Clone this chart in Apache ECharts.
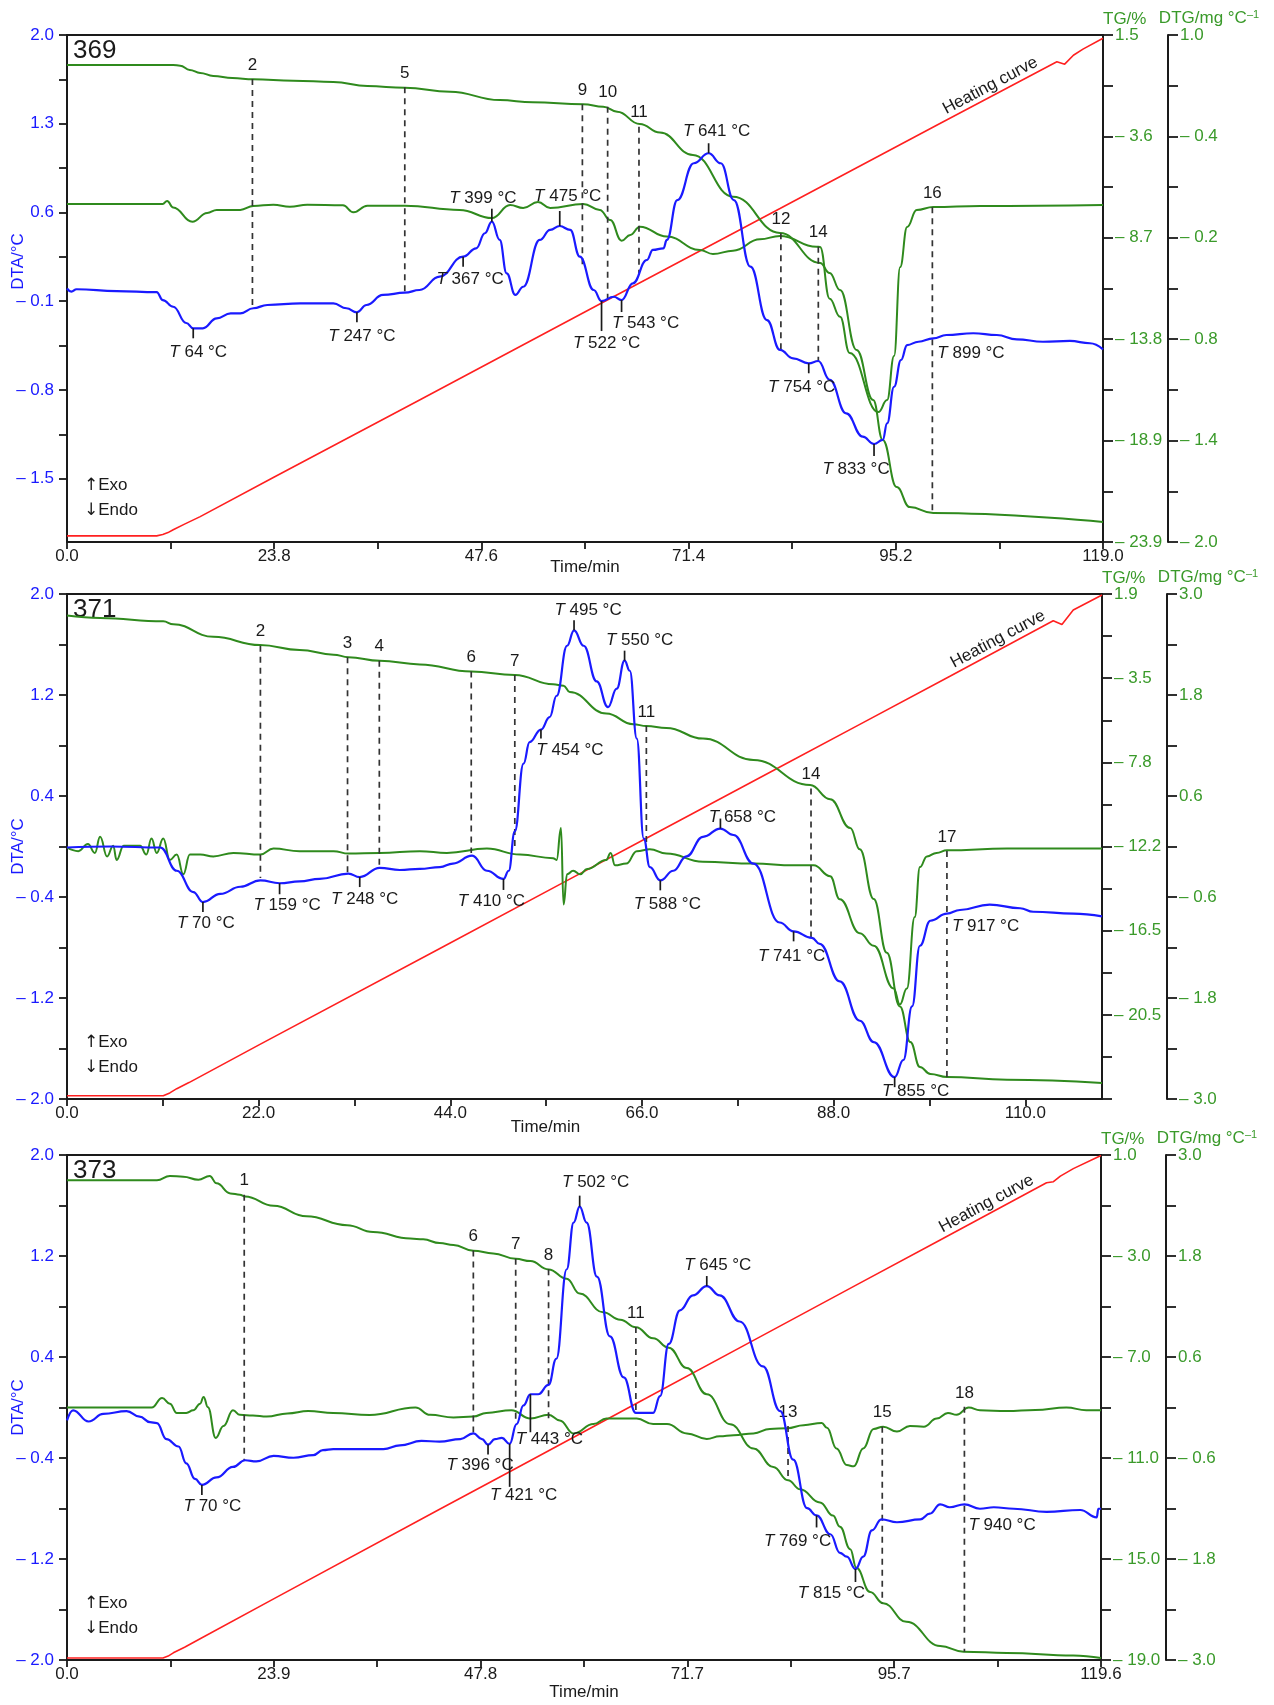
<!DOCTYPE html>
<html><head><meta charset="utf-8">
<script src="https://cdn.jsdelivr.net/npm/echarts@6/dist/echarts.min.js"></script>
<style>html,body{margin:0;padding:0;background:#fff}#c{width:1274px;height:1705px}</style>
</head><body><div id="c"></div>
<script>
// ---------------- DATA ----------------
// Panel 369
const p1XLabels = ['0.0','23.8','47.6','71.4','95.2','119.0'];
const p1DtaLabels = ['2.0','1.3','0.6','– 0.1','– 0.8','– 1.5'];
const p1TgLabels = ['1.5','– 3.6','– 8.7','– 13.8','– 18.9','– 23.9'];
const p1DtgLabels = ['1.0','– 0.4','– 0.2','– 0.8','– 1.4','– 2.0'];
const p1DTA = [[0,0.0],[0.5,-0.025],[1.1,-0.006],[5.7,-0.02],[10.3,-0.028],[11.0,-0.091],[12.2,-0.144],[13.7,-0.272],[14.5,-0.314],[15.6,-0.314],[17.2,-0.235],[18.8,-0.196],[19.9,-0.196],[21.4,-0.156],[23.0,-0.130],[26.8,-0.117],[30.6,-0.117],[32.1,-0.156],[33.3,-0.188],[34.4,-0.130],[36.3,-0.051],[38.8,-0.033],[40.5,-0.012],[42.8,0.093],[45.5,0.251],[47.0,0.317],[48.0,0.436],[48.8,0.527],[49.7,0.383],[50.5,0.120],[51.5,-0.051],[52.4,0.014],[54.3,0.383],[55.5,0.462],[56.6,0.493],[57.8,0.462],[58.9,0.251],[60.5,-0.012],[61.4,-0.099],[62.8,-0.065],[63.7,-0.091],[65.0,0.041],[66.6,0.225],[67.3,0.304],[68.5,0.317],[68.9,0.383],[70.1,0.698],[72.0,0.988],[73.7,1.067],[75.1,0.988],[76.6,0.698],[78.5,0.172],[80.4,-0.249],[81.9,-0.485],[83.4,-0.551],[85.2,-0.590],[86.3,-0.572],[87.6,-0.72],[89.5,-0.985],[91.4,-1.169],[92.7,-1.227],[93.7,-1.195],[94.2,-1.064],[95.0,-0.775],[95.8,-0.564],[96.5,-0.446],[97.8,-0.420],[99.5,-0.393],[101.0,-0.367],[104.1,-0.353],[106.8,-0.367],[109.1,-0.401],[112.1,-0.420],[115.2,-0.414],[117.5,-0.432],[119,-0.480]];
const p1TG = [[0,0.0],[12.2,0.0],[13.0,-0.04],[14.1,-0.25],[15.3,-0.40],[16.8,-0.55],[19,-0.66],[21.4,-0.72],[26,-0.79],[30.6,-0.85],[34.5,-1.06],[38.8,-1.14],[44,-1.34],[49.7,-1.76],[53.5,-1.87],[59.3,-1.97],[61.6,-2.09],[63.2,-2.34],[65.8,-2.96],[68.1,-3.39],[71.9,-4.51],[76.5,-6.60],[81.9,-8.42],[86.5,-9.92],[87.6,-10.42],[88.8,-11.28],[90.7,-14.28],[92.6,-16.79],[93.7,-18.79],[95.3,-21.15],[96.8,-22.15],[99.5,-22.45],[119,-22.90]];
const p1DTG = [[0,0.0],[11.0,0.0],[11.5,0.018],[12.2,-0.02],[14.4,-0.105],[16.1,-0.053],[17.2,-0.035],[19.9,-0.035],[21.4,-0.012],[23.7,-0.004],[25.6,-0.016],[27.6,-0.004],[31.7,-0.008],[32.9,-0.049],[34.5,-0.010],[38.8,-0.010],[45.1,-0.035],[48.8,-0.083],[50.9,-0.006],[52.4,-0.024],[54.1,0.012],[55.5,-0.024],[59.3,0.0],[61.2,-0.035],[62.4,-0.095],[63.7,-0.217],[64.7,-0.183],[65.8,-0.134],[68.9,-0.193],[72.7,-0.272],[74.2,-0.296],[76.5,-0.276],[79.6,-0.209],[81.9,-0.189],[86.1,-0.253],[86.5,-0.254],[87.6,-0.56],[88.8,-0.667],[89.9,-0.882],[93.2,-1.231],[94.2,-1.160],[95.0,-0.90],[95.7,-0.373],[96.5,-0.136],[97.6,-0.036],[99.5,-0.018],[104.9,-0.012],[119,-0.006]];
const p1Heat = [[0,25],[10.3,25],[11.0,28],[11.6,32],[12.2,38],[13.5,50],[15.3,66],[23.7,149],[40.5,314],[61.2,518],[81.9,721],[100,899],[113.7,1033],[114.6,1028],[115.6,1047],[116.7,1060],[119,1083]];
const p1Lines = [[21.3,1.653,-0.144,'2'],[38.8,1.587,-0.025,'5'],[59.2,1.453,0.172,'9'],[62.1,1.434,-0.075,'10'],[65.7,1.277,0.120,'11'],[82.0,0.436,-0.485,'12'],[86.3,0.330,-0.578,'14'],[99.4,0.641,-1.774,'16']];
const p1Marks = [[14.5,-0.314,'64 °C'],[33.3,-0.188,'247 °C'],[45.5,0.251,'367 °C'],[48.8,0.527,'399 °C'],[56.6,0.493,'475 °C'],[61.4,-0.099,'522 °C'],[63.7,-0.091,'543 °C'],[73.7,1.067,'641 °C'],[85.2,-0.590,'754 °C'],[92.7,-1.227,'833 °C'],[99.4,-0.393,'899 °C']];

// Panel 371
const p2XLabels = ['0.0','22.0','44.0','66.0','88.0','110.0'];
const p2DtaLabels = ['2.0','1.2','0.4','– 0.4','– 1.2','– 2.0'];
const p2TgLabels = ['1.9','– 3.5','– 7.8','– 12.2','– 16.5','– 20.5'];
const p2DtgLabels = ['3.0','1.8','0.6','– 0.6','– 1.8','– 3.0'];
const p2DTA = [[0,-0.008],[5,0.0],[10.7,-0.008],[12.6,-0.192],[14.5,-0.361],[15.6,-0.440],[17.6,-0.375],[19.9,-0.319],[22.2,-0.268],[24.4,-0.291],[26.7,-0.276],[29.0,-0.257],[32.3,-0.215],[33.6,-0.242],[35.9,-0.169],[38.2,-0.186],[40.5,-0.177],[42.8,-0.163],[44.3,-0.135],[46.5,-0.073],[48.2,-0.192],[50.1,-0.257],[50.7,-0.192],[51.4,0.120],[52.4,0.657],[53.1,0.827],[54.4,0.926],[55.4,1.025],[56.2,1.194],[57.4,1.590],[58.2,1.712],[59.3,1.590],[60.8,1.308],[62.1,1.104],[63.1,1.251],[64.0,1.472],[64.6,1.392],[65.4,0.855],[66.2,0.063],[66.9,-0.163],[68.1,-0.268],[69.6,-0.192],[71.1,-0.078],[73.0,0.077],[75.0,0.142],[76.5,0.091],[78.8,-0.135],[81.8,-0.602],[83.4,-0.672],[85.5,-0.724],[86.4,-0.771],[88.7,-1.069],[91.0,-1.380],[92.6,-1.549],[95.0,-1.827],[96.0,-1.691],[97.0,-1.267],[97.9,-0.786],[99.1,-0.588],[101.0,-0.532],[102.5,-0.503],[105.9,-0.460],[109.4,-0.489],[110.9,-0.517],[115.5,-0.532],[118.8,-0.554]];
const p2TG = [[0,0.18],[3.8,0.05],[11.05,-0.13],[12.2,-0.28],[16.8,-0.94],[22.15,-1.37],[26.7,-1.63],[30.6,-1.87],[32.3,-2.00],[35.9,-2.19],[40.5,-2.38],[46.4,-2.75],[51.4,-2.93],[55.8,-3.42],[57.0,-3.49],[57.7,-3.82],[61.9,-4.95],[65.0,-5.51],[66.5,-5.60],[68.8,-5.70],[73.0,-6.26],[78.8,-7.38],[85.3,-8.69],[87.6,-9.43],[89.9,-10.93],[91.0,-12.05],[92.6,-14.65],[94.1,-17.46],[95.6,-20.26],[96.8,-22.12],[97.9,-23.43],[99.1,-23.79],[101.0,-23.95],[107.9,-24.09],[118.8,-24.26]];
const p2DTG = [[0,-0.012],[1.3,-0.055],[2.4,0.031],[3.2,-0.076],[3.8,0.115],[4.6,-0.118],[5.3,0.010],[5.7,-0.160],[6.5,0.010],[8.4,0.010],[9.1,-0.096],[9.7,0.094],[10.3,-0.076],[11.05,0.094],[11.8,-0.160],[12.6,-0.096],[13.35,-0.330],[14.1,-0.096],[15.3,-0.096],[16.8,-0.118],[19.1,-0.076],[22.2,-0.096],[23.7,-0.025],[26.7,-0.055],[30.6,-0.055],[32.3,-0.084],[35.9,-0.076],[40.5,-0.055],[43.6,-0.076],[48.2,-0.025],[52.0,-0.096],[55.8,-0.139],[56.2,-0.160],[56.7,0.221],[57.0,-0.690],[57.4,-0.330],[58.1,-0.287],[58.9,-0.330],[59.7,-0.267],[61.9,-0.160],[62.4,-0.076],[62.9,-0.224],[64.2,-0.203],[65.4,-0.055],[66.9,-0.033],[68.8,-0.084],[73.0,-0.182],[78.8,-0.203],[83.4,-0.224],[85.7,-0.224],[87.6,-0.352],[88.7,-0.627],[91.0,-1.03],[92.6,-1.179],[94.9,-1.688],[95.6,-1.878],[96.4,-1.688],[97.3,-0.839],[97.9,-0.245],[98.7,-0.118],[99.8,-0.076],[101.0,-0.046],[107.9,-0.025],[118.8,-0.025]];
const p2Heat = [[0,25],[11.05,25],[11.8,31],[12.6,40],[14.0,53],[22.2,135],[42.8,339],[57.0,480],[66.5,574],[81.5,723],[91.0,817],[101.4,920],[113.2,1038],[114.2,1030],[115.5,1061],[118.8,1093]];
const p2Lines = [[22.2,1.590,-0.249,'2'],[32.2,1.500,-0.220,'3'],[35.85,1.471,-0.169,'4'],[46.4,1.387,-0.051,'6'],[51.4,1.358,-0.022,'7'],[66.5,0.954,0.035,'11'],[85.4,0.459,-0.724,'14'],[101.0,-0.036,-1.827,'17']];
const p2Marks = [[15.6,-0.440,'70 °C'],[24.4,-0.291,'159 °C'],[33.6,-0.242,'248 °C'],[50.1,-0.257,'410 °C'],[54.4,0.926,'454 °C'],[58.2,1.712,'495 °C'],[64.0,1.472,'550 °C'],[68.1,-0.268,'588 °C'],[75.0,0.142,'658 °C'],[83.4,-0.672,'741 °C'],[95.0,-1.827,'855 °C'],[101.0,-0.532,'917 °C']];

// Panel 373
const p3XLabels = ['0.0','23.9','47.8','71.7','95.7','119.6'];
const p3DtaLabels = ['2.0','1.2','0.4','– 0.4','– 1.2','– 2.0'];
const p3TgLabels = ['1.0','– 3.0','– 7.0','– 11.0','– 15.0','– 19.0'];
const p3DtgLabels = ['3.0','1.8','0.6','– 0.6','– 1.8','– 3.0'];
const p3DTA = [[0,-0.102],[0.7,-0.022],[2.5,-0.111],[4.2,-0.051],[6.9,-0.028],[8.4,-0.072],[9.6,-0.116],[10.4,-0.123],[11.5,-0.250],[12.9,-0.309],[13.8,-0.442],[14.8,-0.566],[15.6,-0.613],[17.3,-0.554],[19.2,-0.471],[20.6,-0.418],[21.9,-0.427],[23.9,-0.383],[26.2,-0.398],[28.5,-0.377],[29.6,-0.338],[30.8,-0.330],[33.9,-0.330],[36.6,-0.330],[38.5,-0.300],[41.0,-0.265],[43.1,-0.270],[45.5,-0.250],[47.0,-0.205],[48.0,-0.250],[48.7,-0.294],[49.5,-0.250],[50.3,-0.241],[51.2,-0.288],[52.0,-0.131],[52.8,0.017],[53.6,0.105],[54.5,0.105],[55.7,0.179],[56.6,0.386],[57.8,1.095],[58.6,1.465],[59.3,1.591],[60.1,1.465],[61.3,1.036],[62.8,0.563],[64.4,0.238],[65.8,-0.043],[67.8,-0.043],[68.6,0.090],[69.6,0.504],[70.9,0.770],[72.4,0.888],[74.0,0.962],[75.5,0.888],[77.8,0.681],[80.5,0.326],[82.5,-0.028],[84.0,-0.413],[85.6,-0.797],[86.7,-0.855],[88.3,-1.004],[89.4,-1.151],[90.2,-1.181],[91.2,-1.279],[92.1,-1.181],[93.1,-0.973],[94.2,-0.886],[96.0,-0.909],[98.7,-0.886],[99.8,-0.841],[101.0,-0.767],[102.1,-0.790],[103.8,-0.767],[105.6,-0.802],[107.2,-0.790],[109.5,-0.802],[113.3,-0.826],[117.2,-0.812],[119.1,-0.870],[119.3,-0.802],[119.6,-0.802]];
const p3TG = [[0,0.0],[10.4,0.0],[11.9,0.17],[13.45,0.14],[15.2,0.02],[16.5,0.17],[17.3,-0.12],[18.9,-0.52],[20.0,-0.57],[20.6,-0.64],[23.9,-1.01],[27.7,-1.43],[32.4,-1.78],[35.4,-2.05],[39.7,-2.31],[41.2,-2.34],[43.1,-2.49],[44.7,-2.56],[47.0,-2.79],[49.3,-2.90],[51.9,-3.11],[53.6,-3.20],[55.7,-3.53],[57.8,-3.90],[59.3,-4.49],[62.0,-5.23],[64.0,-5.52],[65.8,-5.82],[67.8,-6.26],[69.6,-6.63],[71.7,-7.44],[74.0,-8.48],[76.7,-9.66],[79.4,-10.62],[81.7,-11.36],[83.4,-11.88],[84.8,-12.24],[87.1,-12.76],[88.6,-13.28],[89.4,-13.72],[90.6,-14.61],[91.3,-15.35],[92.9,-16.31],[94.4,-16.75],[97.1,-17.49],[101.0,-18.45],[103.7,-18.67],[108.7,-18.72],[116.4,-18.82],[119.6,-18.92]];
const p3DTG = [[0,0.0],[9.8,0.0],[11.0,0.113],[11.9,0.046],[12.7,-0.064],[13.8,-0.064],[14.6,-0.033],[15.4,0.046],[15.8,0.126],[16.3,0.003],[17.2,-0.361],[18.1,-0.220],[19.2,-0.033],[20.0,-0.087],[21.5,-0.095],[23.1,-0.108],[25.5,-0.07],[27.9,-0.042],[30.8,-0.064],[35,-0.09],[40.3,0.0],[42.0,-0.087],[44.7,-0.118],[47.0,-0.108],[48.5,-0.064],[51.4,-0.033],[53.6,-0.131],[55.7,-0.087],[57.0,-0.153],[58.6,-0.308],[60.9,-0.197],[62.4,-0.131],[65.9,-0.131],[67.8,-0.197],[69.4,-0.197],[71.7,-0.308],[74.0,-0.374],[75.5,-0.343],[77.1,-0.330],[79.4,-0.308],[81.3,-0.255],[83.3,-0.246],[85.2,-0.210],[87.3,-0.184],[87.9,-0.241],[89.0,-0.486],[90.2,-0.684],[91.0,-0.699],[92.1,-0.486],[93.3,-0.254],[94.4,-0.228],[96.0,-0.286],[97.5,-0.220],[99.1,-0.228],[100.6,-0.131],[101.9,-0.064],[102.9,-0.087],[104.3,0.0],[105.6,-0.033],[108.7,-0.042],[112,-0.03],[115.6,0.0],[117.9,-0.033],[119.6,-0.033]];
const p3Heat = [[0,25],[11.1,25],[11.7,29],[12.3,36],[13.6,48],[15.4,66],[23.9,151],[43.1,342],[51.2,422],[65.9,568],[79.4,702],[91.7,824],[101.0,916],[113.3,1038],[114.1,1040],[114.9,1052],[116.4,1068],[119.6,1096]];
const p3Lines = [[20.5,1.686,-0.418,'1'],[47.0,1.243,-0.205,'6'],[51.9,1.178,-0.116,'7'],[55.7,1.095,-0.087,'8'],[65.8,0.637,-0.043,'11'],[83.4,-0.147,-0.575,'13'],[94.3,-0.152,-1.550,'15'],[103.8,0.005,-1.934,'18']];
const p3Marks = [[15.6,-0.613,'70 °C'],[48.7,-0.294,'396 °C'],[51.2,-0.288,'421 °C'],[53.6,0.105,'443 °C'],[59.3,1.591,'502 °C'],[74.0,0.962,'645 °C'],[86.7,-0.855,'769 °C'],[91.2,-1.279,'815 °C'],[103.8,-0.767,'940 °C']];

// ---------------- LAYOUT (positions / offsets, separate from data) ----------------
// mark layout: [tick length px (+down/-up), text dx, text dy, align]
const p1MarkLayout = [[10,5,24],[10,5,24],[10,7,23],[-13,-9,-23],[-15,8,-30],[30,5,42],[12,24,23],[-10,8,-22],[10,-7,24],[12,-18,25],[0,5,15,'left']];
const p2MarkLayout = [[10,3,21.5],[11,7.5,22],[10,5,22],[11,-12,22],[9,29,21],[-10,14,-20],[-10,15,-20],[10,7,24],[-10,22,-11.5],[10,-2,25],[10,21,14],[0,5,12.5,'left']];
const p3MarkLayout = [[10,10.6,21],[10,-8,20.5],[43,14,51],[38,19,45.5],[-11,16,-24],[-10,11,-21],[12,-19,25.6],[13,-24,24],[0,4,20.6,'left']];

const FONT = '"Liberation Sans", Arial, Helvetica, sans-serif';
const ARROWFONT = '"DejaVu Sans", "Noto Sans", sans-serif';
const BLUE = '#1a1aff', GREEN = '#2f8a1d', GREEN_TXT = '#3a9a2a', RED = '#ff2020', INK = '#1a1a1a';

const panels = [
  {id:'369', grid:{left:67, top:35, width:1036, height:507},
   x:{step:23.8, n:10, max:119.0, labels:p1XLabels, nameGap:17, namePad:[0,0,0,0]},
   dta:{top:2.0, step:0.7, n:10, min:-2.0, labels:p1DtaLabels, namePad:[0,0,0,54]},
   tg:{top:1.5, step:5.08, n:10, min:-23.9, labels:p1TgLabels},
   dtg:{top:1.0, step:0.6, n:10, min:-2.0, labels:p1DtgLabels},
   temp:{min:12, max:1090},
   dtaData:p1DTA, tgData:p1TG, dtgData:p1DTG, heat:p1Heat, lines:p1Lines, marks:p1Marks, markLayout:p1MarkLayout, heatLabelT:106.6},
  {id:'371', grid:{left:67, top:594, width:1035, height:505},
   x:{step:22.0, n:10, max:118.8, labels:p2XLabels, nameGap:20, namePad:[0,78,0,0]},
   dta:{top:2.0, step:0.8, n:10, min:-2.0, labels:p2DtaLabels, namePad:[0,0,0,0]},
   tg:{top:1.3, step:4.4, n:12, min:-25.1, labels:p2TgLabels},
   dtg:{top:3.0, step:1.2, n:10, min:-3.0, labels:p2DtgLabels},
   temp:{min:18, max:1095},
   dtaData:p2DTA, tgData:p2TG, dtgData:p2DTG, heat:p2Heat, lines:p2Lines, marks:p2Marks, markLayout:p2MarkLayout, heatLabelT:107.4},
  {id:'373', grid:{left:67, top:1155, width:1034, height:505},
   x:{step:23.92, n:10, max:119.6, labels:p3XLabels, nameGap:24, namePad:[0,0,0,0]},
   dta:{top:2.0, step:0.8, n:10, min:-2.0, labels:p3DtaLabels, namePad:[0,0,0,0]},
   tg:{top:1.0, step:4.0, n:10, min:-19.0, labels:p3TgLabels},
   dtg:{top:3.0, step:1.2, n:10, min:-3.0, labels:p3DtgLabels},
   temp:{min:20.7, max:1097},
   dtaData:p3DTA, tgData:p3TG, dtgData:p3DTG, heat:p3Heat, lines:p3Lines, marks:p3Marks, markLayout:p3MarkLayout, heatLabelT:106.9}
];

// ---------------- HELPERS ----------------
function ticksDown(top, step, n) { const a = []; for (let k = 0; k <= n; k++) a.push(+(top - k * step / 2).toFixed(6)); return a; }
function labelsDown(top, step, cnt) { const a = []; for (let j = 0; j < cnt; j++) a.push(+(top - j * step).toFixed(6)); return a; }
function ticksUp(step, n) { const a = []; for (let k = 0; k <= n; k++) a.push(+(k * step / 2).toFixed(6)); return a; }
function labelsUp(step, cnt) { const a = []; for (let j = 0; j < cnt; j++) a.push(+(j * step).toFixed(6)); return a; }
function fmt(vals, labels) { return function (v) { for (let j = 0; j < vals.length; j++) if (Math.abs(v - vals[j]) < 1e-4) return labels[j]; return ''; }; }
function interp(arr, t) {
  for (let i = 1; i < arr.length; i++) if (arr[i][0] >= t) { const a = arr[i-1], b = arr[i]; return a[1] + (b[1]-a[1]) * (t - a[0]) / (b[0] - a[0]); }
  return arr[arr.length-1][1];
}

function yAxisDef(gi, spec, opts) {
  const lv = labelsDown(spec.top, spec.step, spec.labels.length);
  return Object.assign({
    type:'value', gridIndex:gi, min:spec.min, max:spec.top,
    axisLine:{show:true, onZero:false, lineStyle:{color:INK, width:2}},
    axisTick:{show:true, length:opts.tickLen, lineStyle:{color:INK, width:1.8}, customValues:ticksDown(spec.top, spec.step, spec.n)},
    axisLabel:{show:true, margin:opts.margin, color:opts.color, fontSize:17, fontFamily:FONT, customValues:lv, formatter:fmt(lv, spec.labels)},
    splitLine:{show:false}
  }, opts.extra);
}

const option = {animation:false, backgroundColor:'#ffffff', textStyle:{fontFamily:FONT},
  grid:[], xAxis:[], yAxis:[], series:[], graphic:[]};

panels.forEach(function (p, i) {
  option.grid.push({left:p.grid.left, top:p.grid.top, width:p.grid.width, height:p.grid.height,
    show:true, borderColor:INK, borderWidth:2, backgroundColor:'transparent',
    containLabel:false, outerBoundsMode:'none'});
  const xlv = labelsUp(p.x.step, p.x.labels.length);
  option.xAxis.push({type:'value', gridIndex:i, position:'bottom', min:0, max:p.x.max,
    axisLine:{onZero:false, lineStyle:{color:INK, width:2}},
    axisTick:{length:7, lineStyle:{color:INK, width:1.8}, customValues:ticksUp(p.x.step, p.x.n)},
    axisLabel:{margin:6, color:INK, fontSize:17, fontFamily:FONT, customValues:xlv, formatter:fmt(xlv, p.x.labels),
      alignMinLabel:'center', alignMaxLabel:'center'},
    splitLine:{show:false},
    name:'Time/min', nameLocation:'middle', nameGap:p.x.nameGap, nameMoveOverlap:false,
    nameTextStyle:{color:INK, fontSize:17, fontFamily:FONT, padding:p.x.namePad}});
  const yb = i * 4;
  option.yAxis.push(yAxisDef(i, p.dta, {tickLen:8, margin:13, color:BLUE, extra:{position:'left',
    name:'DTA/°C', nameLocation:'middle', nameGap:40, nameMoveOverlap:false,
    nameTextStyle:{color:BLUE, fontSize:17, fontFamily:FONT, padding:p.dta.namePad}}}));
  option.yAxis.push(yAxisDef(i, p.tg, {tickLen:10, margin:12, color:GREEN_TXT, extra:{position:'right', offset:0,
    name:'TG/%', nameLocation:'end', nameGap:7, nameMoveOverlap:false,
    nameTextStyle:{color:GREEN_TXT, fontSize:17, fontFamily:FONT, align:'left', verticalAlign:'bottom'}}}));
  option.yAxis.push(yAxisDef(i, p.dtg, {tickLen:10, margin:12, color:GREEN_TXT, extra:{position:'right', offset:65,
    name:'DTG/mg °C{sup|–1}', nameLocation:'end', nameGap:7, nameMoveOverlap:false,
    nameTextStyle:{color:GREEN_TXT, fontSize:17, fontFamily:FONT, align:'center', verticalAlign:'bottom', padding:[0,0,0,82],
      rich:{sup:{fontSize:11, color:GREEN_TXT, fontFamily:FONT, verticalAlign:'top', padding:[0,0,8,0]}}}}}));
  option.yAxis.push({type:'value', gridIndex:i, min:p.temp.min, max:p.temp.max, show:false, splitLine:{show:false}});

  const lineBase = {type:'line', xAxisIndex:i, showSymbol:false, symbol:'none', smooth:0.45, smoothMonotone:'x', silent:true};
  option.series.push(Object.assign({}, lineBase, {name:'Heating '+p.id, yAxisIndex:yb+3, data:p.heat, smooth:false, lineStyle:{color:RED, width:1.6}, z:2}));
  option.series.push(Object.assign({}, lineBase, {name:'TG '+p.id, yAxisIndex:yb+1, data:p.tgData, lineStyle:{color:GREEN, width:2}, z:3}));
  option.series.push(Object.assign({}, lineBase, {name:'DTG '+p.id, yAxisIndex:yb+2, data:p.dtgData, lineStyle:{color:GREEN, width:2}, z:3}));

  // dashed reference lines with step numbers
  const lines = p.lines;
  option.series.push({type:'custom', name:'steps '+p.id, xAxisIndex:i, yAxisIndex:yb, silent:true, z:4,
    data:lines.map(function (l) { return [l[0], l[1], l[2]]; }),
    encode:{x:0, y:[1,2]},
    renderItem:function (params, api) {
      const a = api.coord([api.value(0), api.value(1)]);
      const b = api.coord([api.value(0), api.value(2)]);
      return {type:'group', children:[
        {type:'line', shape:{x1:a[0], y1:a[1], x2:b[0], y2:b[1]}, style:{stroke:'#333333', lineWidth:1.7, lineDash:[6,5]}},
        {type:'text', x:a[0], y:a[1] - 14, style:{text:lines[params.dataIndex][3], fill:INK, fontSize:17, fontFamily:FONT, align:'center', verticalAlign:'middle'}}
      ]};
    }});

  option.series.push(Object.assign({}, lineBase, {name:'DTA '+p.id, yAxisIndex:yb, data:p.dtaData, lineStyle:{color:BLUE, width:2.2}, z:5}));

  // temperature marks
  const marks = p.marks, ml = p.markLayout;
  option.series.push({type:'custom', name:'marks '+p.id, xAxisIndex:i, yAxisIndex:yb, silent:true, z:6,
    data:marks.map(function (m) { return [m[0], m[1]]; }),
    encode:{x:0, y:1},
    renderItem:function (params, api) {
      const L = ml[params.dataIndex];
      const c = api.coord([api.value(0), api.value(1)]);
      const ch = [];
      if (L[0]) ch.push({type:'line', shape:{x1:c[0], y1:c[1], x2:c[0], y2:c[1] + L[0]}, style:{stroke:INK, lineWidth:1.7}});
      ch.push({type:'text', x:c[0] + L[1], y:c[1] + L[2], style:{
        text:'{i|T} ' + marks[params.dataIndex][2], fill:INK, fontSize:17, fontFamily:FONT,
        align:L[3] || 'center', verticalAlign:'middle',
        rich:{i:{fontStyle:'italic', fontSize:17, fontFamily:FONT, fill:INK}}}});
      return {type:'group', children:ch};
    }});

  // heating curve label
  const heat = p.heat, tA = p.heatLabelT;
  option.series.push({type:'custom', name:'heatlabel '+p.id, xAxisIndex:i, yAxisIndex:yb+3, silent:true, z:6,
    data:[[tA, interp(heat, tA)]], encode:{x:0, y:1},
    renderItem:function (params, api) {
      const c = api.coord([api.value(0), api.value(1)]);
      const a = api.coord([tA - 25, interp(heat, tA - 25)]);
      const rot = Math.atan2(-(c[1] - a[1]), c[0] - a[0]);
      return {type:'text', x:c[0] - 10 * Math.sin(rot), y:c[1] - 10 * Math.cos(rot), rotation:rot,
        style:{text:'Heating curve', fill:INK, fontSize:17, fontFamily:FONT, align:'center', verticalAlign:'middle'}};
    }});

  // panel id and Exo / Endo legend
  const g = p.grid;
  const arrowRich = {a:{fontFamily:ARROWFONT, fontSize:17, fill:INK}};
  option.graphic.push({type:'text', left:g.left + 6, top:g.top + 3, silent:true, style:{text:p.id, fill:INK, fontSize:26, fontFamily:FONT}});
  option.graphic.push({type:'text', left:g.left + 17, top:g.top + g.height - 65, silent:true, style:{text:'{a|↑}Exo', rich:arrowRich, fill:INK, fontSize:17, fontFamily:FONT}});
  option.graphic.push({type:'text', left:g.left + 17, top:g.top + g.height - 40, silent:true, style:{text:'{a|↓}Endo', rich:arrowRich, fill:INK, fontSize:17, fontFamily:FONT}});
});

const chart = echarts.init(document.getElementById('c'), null, {renderer:'canvas'});
chart.setOption(option);
</script></body></html>
